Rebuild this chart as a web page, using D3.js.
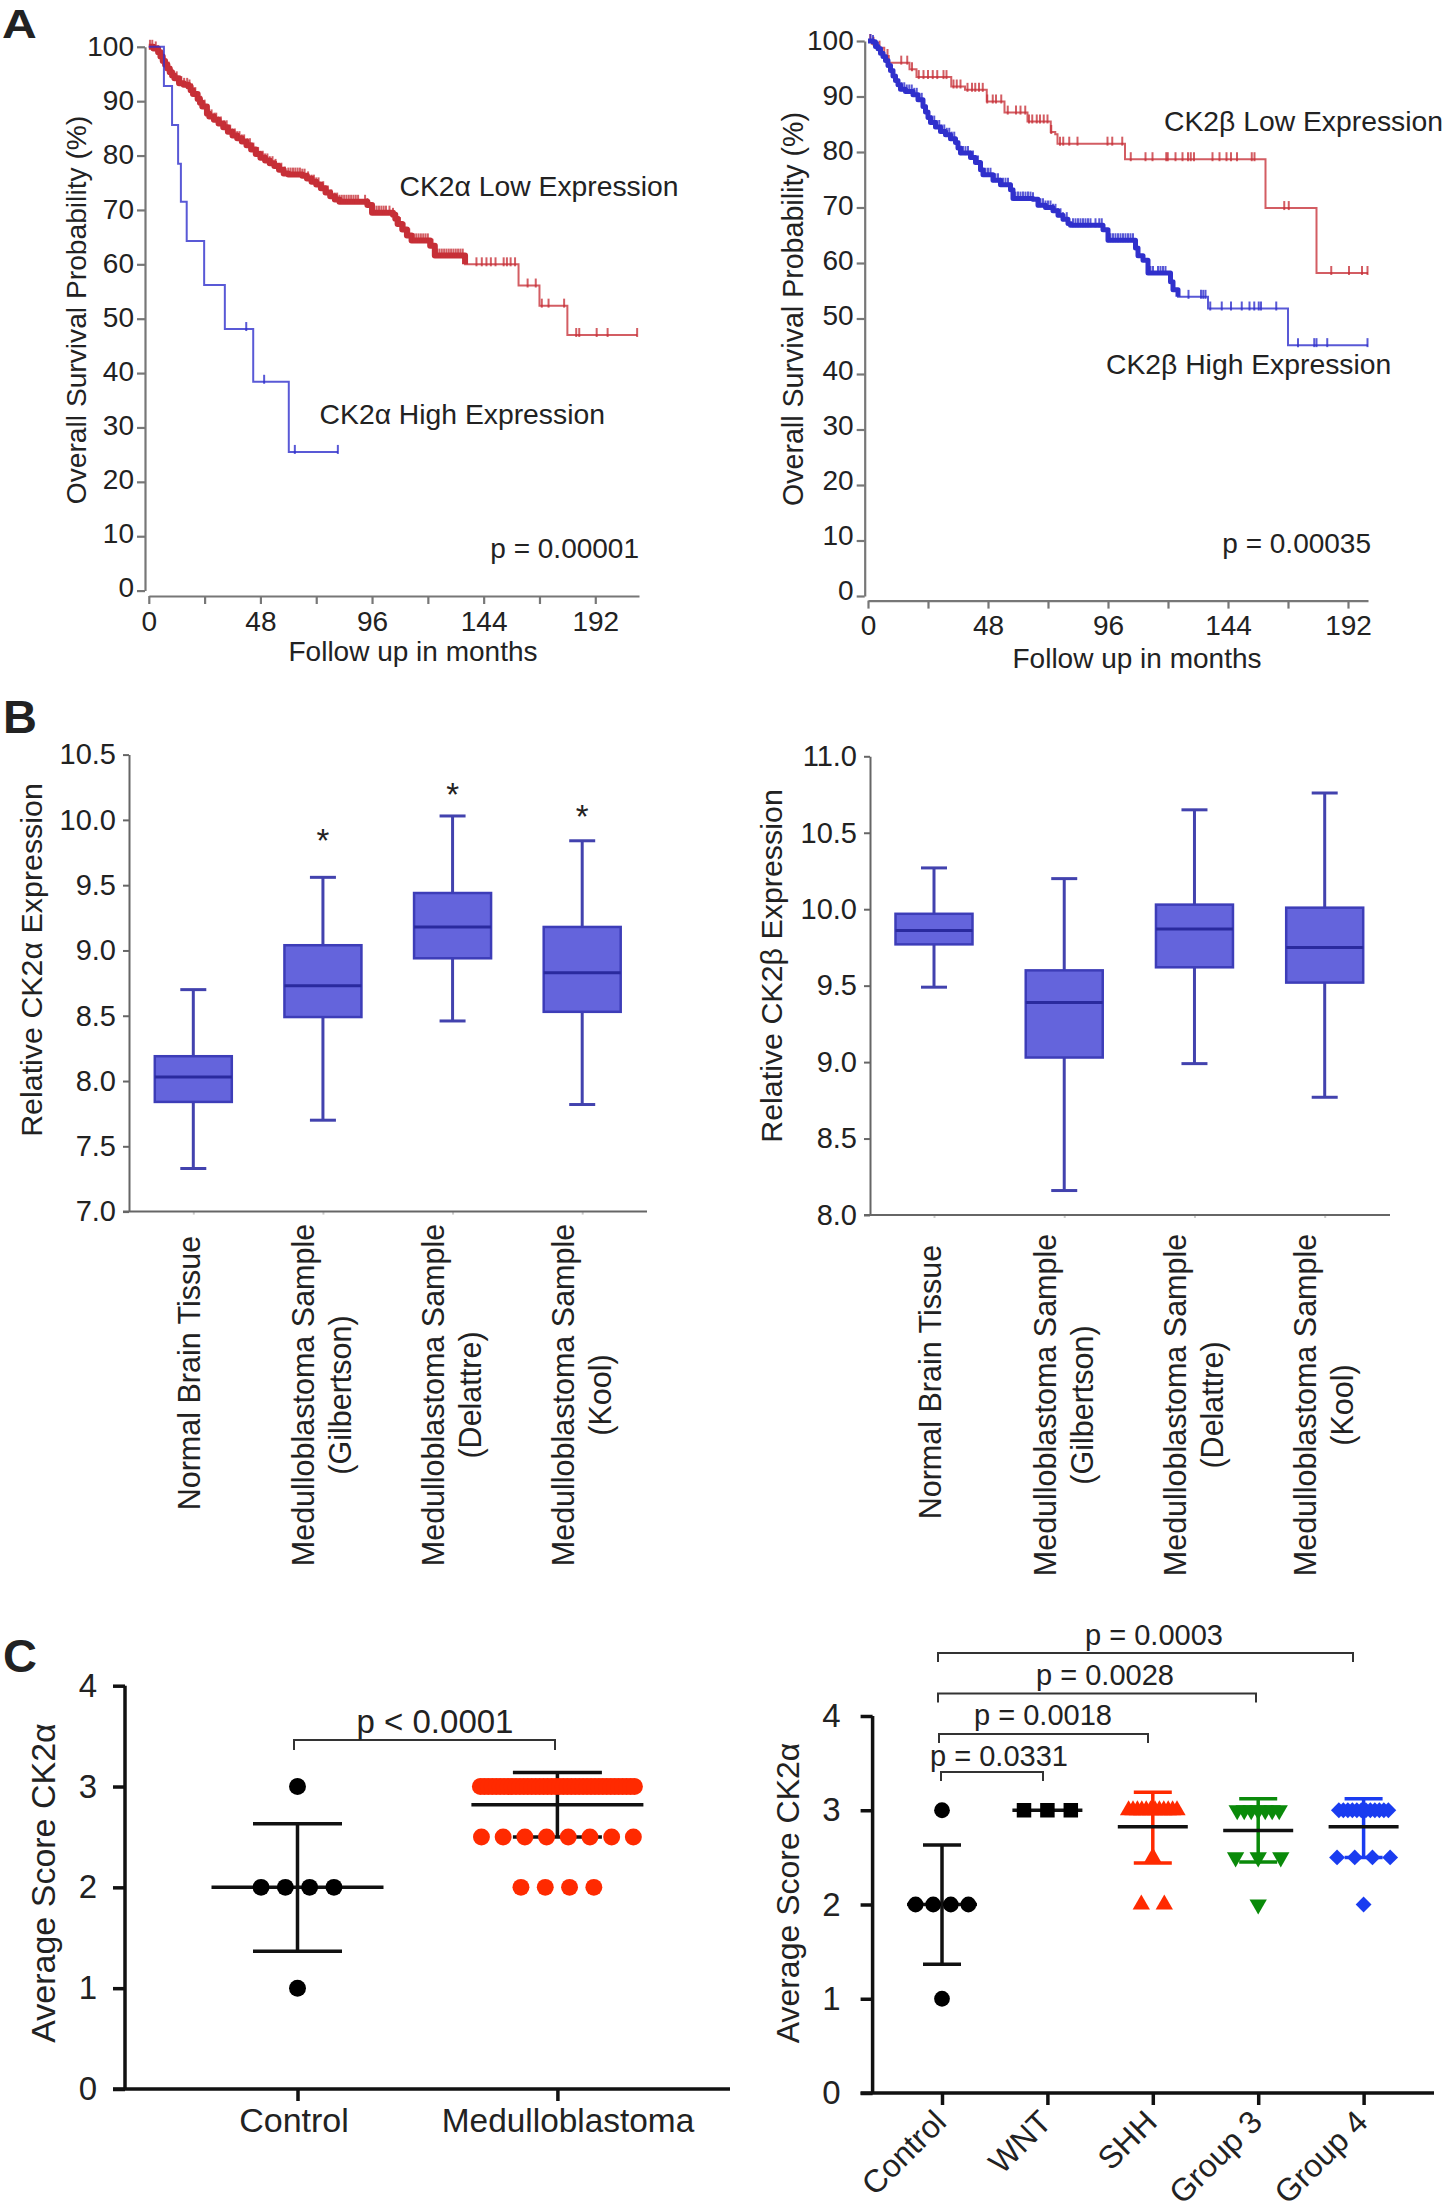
<!DOCTYPE html>
<meta charset="utf-8">
<script src="https://d3js.org/d3.v7.min.js"></script>
<body style="margin:0;background:#fff">
<div id="my_dataviz"></div>
</body>
<style>
text { font-family: "Liberation Sans", Arial, sans-serif; fill: #222; }
.surv .domain, .surv .tick line { stroke: #777; stroke-width: 2.2; }
.box .domain, .box .tick line { stroke: #666; stroke-width: 2; }
.box .xax .tick line { stroke: #ccc; }
.scat .domain { display: none; }
.scat .tick line { stroke: #111; stroke-width: 3.5; }
</style>
<script>
// Panel A - survival curves
var survTicks = [0,10,20,30,40,50,60,70,80,90,100]
var monthTicks = [0,24,48,72,96,120,144,168,192]

var alphaHighMonths = [0,6.5,10,12.6,13.8,16.3,23.8,32.7,44.9,60.2,81.3]
var alphaHighSurv = [100,92.8,85.6,78.5,71.5,64.3,56.2,48.1,38.4,25.5,25.5]
var alphaHighCensor = [41.9,49.6,62.8,81.3]

var alphaLowMonths = [0,2,4,5,6,7,8,9,10,11,13,15,17,18,19,21,22,23,25,26,28,30,32,34,36,38,40,42,44,46,48,50,52,54,56,58,60,66,68,70,72,74,76,78,80,82,90,94,96,105,106,107,109,111,113,120,121,123,136,159,168,180,210]
var alphaLowSurv = [100,99.7,99,98.2,97.4,96.7,96,95.3,94.7,94.2,93.3,93,92.7,92,91.3,90.4,89.7,89,87.7,87.2,86.6,85.9,85.2,84.4,83.7,83.2,82.6,81.9,81.1,80.3,79.6,79.1,78.6,78.1,77.4,76.7,76.5,76.3,75.8,75.2,74.7,74,73.2,72.5,71.9,71.5,71.5,70.9,69.5,69.1,68.4,67.4,66.4,65.3,64.4,64.4,63.4,61.6,60,56.1,52.4,47,47]
var alphaLowCensor = [0.5,1.5,3,4,5.5,7,8.5,10,12,13,14,15.2,16.5,17.5,18.5,20,21,22.5,24,25,26,27,28.2,29,30,31,32.5,33.5,35,36,37,38,39,40,41,42.5,43.5,45,46,47,48,49,50,51,52,53.2,54.5,56,57,58.5,60,61,62,63,64,65,66,67,68.5,70,71,72,73,75,76,77,78.5,80,81,82,83,84,85,86,87,88,89,90,93,94,96,97,98,99,100,101,102,103.5,105,106,108,110,112,113,114,115,116,117,118,119,120,122,124,125,126,127,128,129,130,131,132,133,134,135,140.9,143.2,145.2,147.1,149.1,152.6,154,155.6,157.5,162.9,166.4,169,171.9,178.6,183.8,185.1,192.6,197.3,210]

var betaLowMonths = [0,1.5,3.7,6.5,8.3,13.9,16.6,19.4,32.4,33.3,38.8,46.2,47.5,53.6,54.6,62.9,63.8,72.1,73.1,74.9,75.8,102.1,102.8,159,179.4,200]
var betaLowSurv = [100,99.5,98.8,97.3,96.1,96.1,94.9,93.5,93.5,91.8,91.2,91.2,89.1,89.1,87.1,87.1,85.5,85.5,83.6,83.2,81.5,81.5,78.7,69.9,58.2,58.2]
var betaLowCensor = [0.9,2.2,4.6,7.8,13.3,15.7,17.6,20.3,22.2,24,25.9,27.7,30.2,31.4,34.2,35.5,37,39.8,41.6,42.9,44.4,45.9,47.7,49.9,51.2,53.3,55.9,59.2,61,62.9,64.4,65.7,67.5,68.8,70.3,71.8,73.3,76.8,78.1,80.5,83.8,95.8,97.7,101.7,105.1,111,113.8,119.3,119.9,123,125.8,128,129.1,130.4,137.8,140.6,143.4,145.2,147.6,153.5,154.6,166.5,168.3,185.3,192.4,197.6,199.8]

var betaHighMonths = [0,2,3,4,5,6,7,8,9,10,11,12,13,15,18,20,22,23,24,25,27,29,31,33,35,36,37,41,43,45,46,50,53,57,58,66,68,71,74,76,78,80,81,90,94,96,106,107,108,110,112,120,121,122,124,136,168,200]
var betaHighSurv = [100,99.8,99,98.6,97.8,97.2,96.5,95.6,94.7,93.7,92.9,92.1,91.3,90.9,90.3,89.4,88.2,87.2,86.2,85.3,84.5,83.7,83.1,82.4,81.7,80.7,79.8,79,78.1,76.8,75.9,74.9,74.1,73.2,71.6,71.5,70.4,70,69.4,68.6,67.9,67.1,66.8,66.8,66,64.1,64.1,62.7,61.3,60.5,58.2,58.2,56.6,55.2,53.9,51.8,45.2,45.2]
var betaHighCensor = [1,2,3,4,13.5,14.5,15.5,16.5,17.5,18.5,19.5,20.5,21.5,23,24,25.5,26.5,27.5,28.5,29.5,30.5,31.5,32.5,33.5,34.5,36,37,38,39,40,41,42,44,45.5,47,48,49,50,51,52,53,54,55,56,57,59,60,61,62,63,64,65,66,68,69,70,71,72,73,74,75,76,77,78,79.5,82,83,84,85,86,87,88,89,91,92.5,93.5,96,97,98,99,100,101,102,103,104,105,106,112,113,114,116,117,118,119,128.2,133.2,134.1,135,136.9,141.5,145.2,149.5,152.6,154.5,156.3,157.2,163.3,172,178.5,179.4,183.7,199.8]

// Panel B - box plots
var boxCategories = ["Normal Brain Tissue","Medulloblastoma Sample\n(Gilbertson)","Medulloblastoma Sample\n(Delattre)","Medulloblastoma Sample\n(Kool)"]
var alphaTicks = [7,7.5,8,8.5,9,9.5,10,10.5]
var alphaMin = [7.33,7.70,8.46,7.82]
var alphaQ1 = [7.84,8.49,8.94,8.53]
var alphaMed = [8.03,8.73,9.18,8.83]
var alphaQ3 = [8.19,9.04,9.44,9.18]
var alphaMax = [8.70,9.56,10.03,9.84]
var alphaStars = [null,9.88,10.23,10.06]

var betaTicks = [8,8.5,9,9.5,10,10.5,11]
var betaMin = [9.49,8.16,8.99,8.77]
var betaQ1 = [9.77,9.03,9.62,9.52]
var betaMed = [9.86,9.39,9.87,9.75]
var betaQ3 = [9.97,9.60,10.03,10.01]
var betaMax = [10.27,10.20,10.65,10.76]

// Panel C - score dot plots
var scoreTicks = [0,1,2,3,4]
var twoGroups = ["Control","Medulloblastoma"]
var fiveGroups = ["Control","WNT","SHH","Group 3","Group 4"]
var ctlScores = [3,2,1], ctlCounts = [1,4,1]
var mbScores = [3,2.5,2], mbCounts = [40,8,4]
var wntScores = [3], wntCounts = [3]
var shhScores = [3,2.5,2], shhCounts = [12,1,2]
var g3Scores = [3,2.5,2], g3Counts = [7,3,1]
var g4Scores = [3,2.5,2], g4Counts = [12,4,1]
var ctlStats = [2,1.365,2.63], mbStats = [2.82,2.5,3.14], wntStats = [3,3,3]
var shhStats = [2.825,2.44,3.19], g3Stats = [2.785,2.45,3.123], g4Stats = [2.825,2.5,3.123]

var svg = d3.select("#my_dataviz").append("svg")
	.attr("width", 1445).attr("height", 2211)
	.style("display", "block")

function addText(txt, x, y, size, anchor, weight) {
	return svg.append("text").attr("x", x).attr("y", y)
		.attr("font-size", size)
		.attr("text-anchor", anchor || "start")
		.attr("font-weight", weight || "normal")
		.text(txt)
}

function addVertical(txt, x, y, size) {
	return svg.append("text")
		.attr("transform", "translate(" + x + "," + y + ") rotate(-90)")
		.attr("text-anchor", "middle")
		.attr("font-size", size)
		.text(txt)
}

// the A is squat in the original, so narrower type stretched sideways
svg.append("text").attr("transform", "translate(2,38) scale(1.16,1)")
	.attr("font-size", 41.5).attr("font-weight", "bold").text("A")
addText("B", 3, 733, 47, "start", "bold")
addText("C", 3, 1672, 47, "start", "bold")

//---------------- survival panels
function survivalPanel(p) {
	var x = d3.scaleLinear().domain([0, p.maxMonth]).range([p.x0, p.x1])
	var y = d3.scaleLinear().domain([0, 100]).range([p.y0, p.y100])
	var g = svg.append("g").attr("class", "surv")

	var yAxis = g.append("g")
		.attr("transform", "translate(" + p.axisX + ",0)")
		.call(d3.axisLeft(y).tickValues(survTicks).tickSize(8).tickSizeOuter(0).tickPadding(3))
	// the printed numbers creep a little above their ticks towards the bottom
	yAxis.selectAll("text").attr("font-size", 28).style("font-family", "Liberation Sans")
		.attr("transform", function(d) { return "translate(0," + (-p.labelDrift * (1 - d / 100)) + ")" })

	var xAxis = g.append("g")
		.attr("transform", "translate(0," + p.axisY + ")")
		.call(d3.axisBottom(x).tickValues(monthTicks).tickSize(8).tickSizeOuter(0).tickPadding(7)
			.tickFormat(function(d) { return d % 48 == 0 ? d : "" }))
	xAxis.selectAll("text").attr("font-size", 28).style("font-family", "Liberation Sans")

	var line = d3.line().curve(d3.curveStepAfter)
		.x(function(d) { return x(d[0]) })
		.y(function(d) { return y(d[1]) })

	p.series.forEach(function(s) {
		var pts = d3.zip(s.months, s.surv)
		var bis = d3.bisector(function(d) { return d[0] }).right
		g.append("path").datum(pts)
			.attr("fill", "none")
			.attr("stroke", s.color)
			.attr("stroke-width", 2)
			.attr("stroke-opacity", s.opacity)
			.attr("d", line)
		// where censor marks pile up the curve reads as a solid band
		if (s.bandTo) {
			g.append("path").datum(pts.filter(function(d) { return d[0] <= s.bandTo }))
				.attr("fill", "none")
				.attr("stroke", s.color)
				.attr("stroke-width", s.bandWidth)
				.attr("stroke-linejoin", "round")
				.attr("d", line)
		}
		g.selectAll(null).data(s.censor).enter().append("line")
			.attr("x1", function(d) { return x(d) })
			.attr("x2", function(d) { return x(d) })
			.attr("y1", function(d) { return y(pts[bis(pts, d) - 1][1]) - 7 })
			.attr("y2", function(d) { return y(pts[bis(pts, d) - 1][1]) + 2 })
			.attr("stroke", s.color)
			.attr("stroke-width", 2)
			.attr("stroke-opacity", s.opacity)
	})
}

var redLine = "#c62f37", blueLine = "#3030cc"

survivalPanel({
	maxMonth: 210.8, x0: 148.8, x1: 639, y0: 590.6, y100: 46.8, axisX: 145, axisY: 596, labelDrift: 3,
	series: [
		{months: alphaLowMonths, surv: alphaLowSurv, censor: alphaLowCensor, color: redLine, opacity: 0.78, bandTo: 136, bandWidth: 6},
		{months: alphaHighMonths, surv: alphaHighSurv, censor: alphaHighCensor, color: blueLine, opacity: 0.8}
	]
})
survivalPanel({
	maxMonth: 200, x0: 868, x1: 1368, y0: 596, y100: 41, axisX: 864.7, axisY: 600.6, labelDrift: 5,
	series: [
		{months: betaLowMonths, surv: betaLowSurv, censor: betaLowCensor, color: redLine, opacity: 0.78},
		{months: betaHighMonths, surv: betaHighSurv, censor: betaHighCensor, color: blueLine, opacity: 0.8, bandTo: 124, bandWidth: 5}
	]
})

addVertical("Overall Survival Probability (%)", 86, 310, 28.2)
addVertical("Overall Survival Probability (%)", 803, 309, 28.6)
addText("Follow up in months", 413, 661, 28, "middle")
addText("Follow up in months", 1137, 668, 28, "middle")
addText("CK2\u03b1 Low Expression", 399.5, 196, 28.3)
addText("CK2\u03b1 High Expression", 319.6, 424, 28.3)
addText("p = 0.00001", 639, 558, 28, "end")
addText("CK2\u03b2 Low Expression", 1164, 131, 28.3)
addText("CK2\u03b2 High Expression", 1106, 374, 28.3)
addText("p = 0.00035", 1371, 553, 28, "end")

//---------------- box panels
function boxPanel(p) {
	var x = d3.scalePoint().domain(boxCategories).range([p.firstX, p.lastX])
	var y = d3.scaleLinear().domain([p.ticks[0], p.ticks[p.ticks.length - 1]]).range([p.y0, p.y1])
	var g = svg.append("g").attr("class", "box")

	var yAxis = g.append("g").attr("transform", "translate(" + p.axisX + ",0)")
		.call(d3.axisLeft(y).tickValues(p.ticks).tickSize(6).tickSizeOuter(0).tickPadding(7).tickFormat(d3.format(".1f")))
	yAxis.selectAll("text").attr("font-size", 29).style("font-family", "Liberation Sans")

	var xAxis = g.append("g").attr("class", "xax").attr("transform", "translate(0," + p.y0 + ")")
		.call(d3.axisBottom(x).tickSize(3).tickSizeOuter(0).tickFormat(""))
	xAxis.select(".domain").remove()
	g.append("line").attr("x1", p.axisX - 6).attr("x2", p.axisEnd)
		.attr("y1", p.y0).attr("y2", p.y0)
		.attr("stroke", "#666").attr("stroke-width", 2)

	var boxes = boxCategories.map(function(c, i) {
		return {cat: c, lo: p.min[i], q1: p.q1[i], med: p.med[i], q3: p.q3[i], hi: p.max[i]}
	})
	var b = g.selectAll(".bx").data(boxes).enter().append("g").attr("class", "bx")
	var capW = 13, halfW = 38.5

	b.append("line").attr("x1", function(d) { return x(d.cat) }).attr("x2", function(d) { return x(d.cat) })
		.attr("y1", function(d) { return y(d.lo) }).attr("y2", function(d) { return y(d.hi) })
		.attr("stroke", "#4242ae").attr("stroke-width", 3)
	;["lo", "hi"].forEach(function(k) {
		b.append("line").attr("x1", function(d) { return x(d.cat) - capW }).attr("x2", function(d) { return x(d.cat) + capW })
			.attr("y1", function(d) { return y(d[k]) }).attr("y2", function(d) { return y(d[k]) })
			.attr("stroke", "#4242ae").attr("stroke-width", 3)
	})
	b.append("rect").attr("x", function(d) { return x(d.cat) - halfW })
		.attr("y", function(d) { return y(d.q3) })
		.attr("width", halfW * 2)
		.attr("height", function(d) { return y(d.q1) - y(d.q3) })
		.attr("fill", "#6464dc").attr("stroke", "#3d3db8").attr("stroke-width", 2.5)
	b.append("line").attr("x1", function(d) { return x(d.cat) - halfW }).attr("x2", function(d) { return x(d.cat) + halfW })
		.attr("y1", function(d) { return y(d.med) }).attr("y2", function(d) { return y(d.med) })
		.attr("stroke", "#2a2a9e").attr("stroke-width", 3)

	if (p.stars) {
		g.selectAll(".star").data(p.stars.map(function(v, i) { return {v: v, c: boxCategories[i]} }).filter(function(d) { return d.v != null }))
			.enter().append("text").attr("class", "star")
			.attr("x", function(d) { return x(d.c) })
			.attr("y", function(d) { return y(d.v) + 16 })
			.attr("text-anchor", "middle").attr("font-size", 33).attr("fill", "#333")
			.text("*")
	}

	// rotated category names, two lines where the name has a break
	boxCategories.forEach(function(c) {
		var lines = c.split("\n")
		var labY = lines.length > 1 ? p.labelY2 : p.labelY1
		lines.forEach(function(t, j) {
			var off = lines.length > 1 ? (j - 0.5) * 37 + 10 : 7
			svg.append("text")
				.attr("transform", "translate(" + (x(c) + off) + "," + labY + ") rotate(-90)")
				.attr("text-anchor", "middle").attr("font-size", 30.5)
				.text(t)
		})
	})
}

boxPanel({firstX: 193.3, lastX: 582.2, y0: 1211.6, y1: 754.6, axisX: 129, axisEnd: 647,
	ticks: alphaTicks, min: alphaMin, q1: alphaQ1, med: alphaMed, q3: alphaQ3, max: alphaMax, stars: alphaStars,
	labelY1: 1373, labelY2: 1395})
boxPanel({firstX: 934, lastX: 1324.7, y0: 1215, y1: 756.3, axisX: 870, axisEnd: 1390,
	ticks: betaTicks, min: betaMin, q1: betaQ1, med: betaMed, q3: betaQ3, max: betaMax,
	labelY1: 1382, labelY2: 1405})

addVertical("Relative CK2\u03b1 Expression", 42, 960, 30.4)
addVertical("Relative CK2\u03b2 Expression", 782, 966, 30.4)

//---------------- score panels
function scorePanel(p) {
	var x = d3.scalePoint().domain(p.cats).range([p.firstX, p.lastX])
	var y = d3.scaleLinear().domain([0, 4]).range([p.y0, p.y4])
	var g = svg.append("g").attr("class", "scat")

	g.append("line").attr("x1", p.axisX).attr("x2", p.axisX).attr("y1", p.y4).attr("y2", p.y0)
		.attr("stroke", "#111").attr("stroke-width", 3.5)
	g.append("line").attr("x1", p.axisX - 12).attr("x2", p.axisEnd).attr("y1", p.y0).attr("y2", p.y0)
		.attr("stroke", "#111").attr("stroke-width", 3.5)

	var yAxis = g.append("g").attr("transform", "translate(" + p.axisX + ",0)")
		.call(d3.axisLeft(y).tickValues(scoreTicks).tickSize(12).tickPadding(p.yPad).tickFormat(d3.format("d")))
	yAxis.selectAll("text").attr("font-size", 33).style("font-family", "Liberation Sans")

	g.append("g").attr("transform", "translate(0," + p.y0 + ")")
		.call(d3.axisBottom(x).tickSize(12).tickFormat(""))

	p.groups.forEach(function(s, gi) {
		var cx = x(p.cats[gi])
		var sg = g.append("g").attr("transform", "translate(" + cx + ",0)")
		var stat = s.stats

		// error bar, then the mean line, then the symbols on top
		if (stat[1] != stat[2]) {
			sg.append("line").attr("y1", y(stat[1])).attr("y2", y(stat[2]))
				.attr("stroke", s.barColor).attr("stroke-width", 3.5)
			stat.slice(1).forEach(function(v) {
				sg.append("line").attr("x1", -p.capW).attr("x2", p.capW).attr("y1", y(v)).attr("y2", y(v))
					.attr("stroke", s.barColor).attr("stroke-width", 3.5)
			})
		}
		sg.append("line").attr("x1", -p.meanW).attr("x2", p.meanW).attr("y1", y(stat[0])).attr("y2", y(stat[0]))
			.attr("stroke", "#111").attr("stroke-width", 3.5)

		var sym = d3.symbol().type(s.type).size(s.size)
		s.scores.forEach(function(v, ri) {
			var n = s.counts[ri]
			var sp = s.spacing[ri]
			sg.selectAll(null).data(d3.range(n)).enter().append("path")
				.attr("d", sym)
				.attr("fill", s.color)
				.attr("transform", function(i) {
					return "translate(" + (i - (n - 1) / 2) * sp + "," + y(v) + ") rotate(" + (s.rot || 0) + ")"
				})
		})
	})

	p.brackets.forEach(function(b) {
		var path = d3.path()
		path.moveTo(b.x1, b.y + b.drop)
		path.lineTo(b.x1, b.y)
		path.lineTo(b.x2, b.y)
		path.lineTo(b.x2, b.y + b.drop)
		svg.append("path").attr("d", path.toString()).attr("fill", "none")
			.attr("stroke", "#333").attr("stroke-width", 2)
		addText(b.label, b.tx, b.ty, p.pSize, "middle")
	})
}

scorePanel({
	cats: twoGroups, firstX: 297.5, lastX: 557.4, y0: 2089, y4: 1685.7, axisX: 125, axisEnd: 730,
	capW: 44.5, meanW: 86, yPad: 16, pSize: 33,
	groups: [
		{scores: ctlScores, counts: ctlCounts, spacing: [0, 24.3, 0], stats: ctlStats, type: d3.symbolCircle, size: 225, color: "#000", barColor: "#111"},
		{scores: mbScores, counts: mbCounts, spacing: [3.95, 21.7, 24.3], stats: mbStats, type: d3.symbolCircle, size: 225, color: "#ff2a00", barColor: "#111"}
	],
	brackets: [{x1: 294, x2: 555, y: 1740, drop: 10, label: "p < 0.0001", tx: 435, ty: 1733}]
})

addText("Control", 294, 2132, 34, "middle")
addText("Medulloblastoma", 568, 2132, 33.4, "middle")

scorePanel({
	cats: fiveGroups, firstX: 942, lastX: 1363.6, y0: 2093, y4: 1716, axisX: 872.6, axisEnd: 1434,
	capW: 19, meanW: 35, yPad: 20, pSize: 29,
	groups: [
		{scores: ctlScores, counts: ctlCounts, spacing: [0, 17.6, 0], stats: ctlStats, type: d3.symbolCircle, size: 195, color: "#000", barColor: "#111"},
		{scores: wntScores, counts: wntCounts, spacing: [23.4], stats: wntStats, type: d3.symbolSquare, size: 210, color: "#000", barColor: "#111"},
		{scores: shhScores, counts: shhCounts, spacing: [4.4, 0, 23], stats: shhStats, type: d3.symbolTriangle, size: 130, color: "#ff2a00", barColor: "#ff2a00"},
		{scores: g3Scores, counts: g3Counts, spacing: [7, 22.6, 0], stats: g3Stats, type: d3.symbolTriangle, size: 130, rot: 180, color: "#0a8a0a", barColor: "#0a8a0a"},
		{scores: g4Scores, counts: g4Counts, spacing: [4.5, 17.7, 0], stats: g4Stats, type: d3.symbolSquare, size: 125, rot: 45, color: "#1a3cf0", barColor: "#1a3cf0"}
	],
	brackets: [
		{x1: 941, x2: 1043, y: 1772, drop: 9, label: "p = 0.0331", tx: 999, ty: 1766},
		{x1: 939, x2: 1148, y: 1734, drop: 9, label: "p = 0.0018", tx: 1043, ty: 1725},
		{x1: 938, x2: 1256, y: 1693.5, drop: 9, label: "p = 0.0028", tx: 1105, ty: 1685},
		{x1: 938, x2: 1353, y: 1653, drop: 9, label: "p = 0.0003", tx: 1154, ty: 1645}
	]
})

// tick labels of the lower right panel sit at 45 degrees
var c2x = d3.scalePoint().domain(fiveGroups).range([942, 1363.6])
fiveGroups.forEach(function(c) {
	svg.append("text")
		.attr("transform", "translate(" + (c2x(c) + 6) + ",2124) rotate(-45)")
		.attr("text-anchor", "end").attr("font-size", 32)
		.text(c)
})

addVertical("Average Score CK2\u03b1", 55, 1883, 34)
addVertical("Average Score CK2\u03b1", 799, 1893, 32)
</script>
